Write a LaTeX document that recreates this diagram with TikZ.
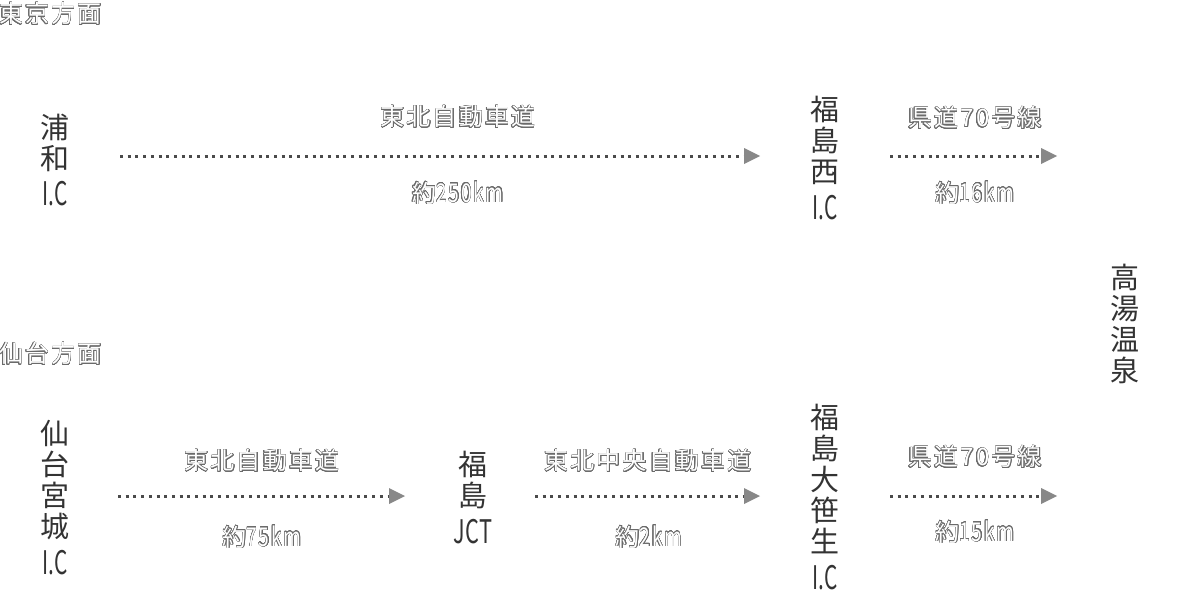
\documentclass[tikz,border=0pt]{standalone}
\usepackage{fontspec}
\usepackage{graphicx}
\usepackage{contour}
\usetikzlibrary{arrows.meta}
\newfontfamily\jp{Noto Sans CJK JP}
\newfontfamily\jpl[LetterSpace=9]{Noto Sans CJK JP}
\definecolor{txt}{HTML}{333333}
\definecolor{olc}{HTML}{6A6A6A}
\definecolor{dotc}{HTML}{4A4A4A}
\definecolor{headc}{HTML}{888888}
\contourlength{0.45pt}
\contournumber{24}
\newcommand{\ol}[1]{{\color{white}\contour{olc}{#1}}}
\newcommand{\dist}[1]{\ol{約}\scalebox{0.8}[1.08]{\ol{#1}}}
\newcommand{\ic}{\scalebox{0.72}[1.12]{I.C}}
\tikzset{
  place/.style={inner sep=0pt, align=center, text=txt, anchor=north,
    font=\jp\fontsize{29}{31}\selectfont},
  lbl/.style={inner sep=0pt, font=\jpl\fontsize{24}{24}\selectfont},
  road/.style={draw=dotc, line width=3pt, dash pattern=on 3pt off 4.7pt,
    -{Triangle[length=16pt,width=16pt,fill=headc,color=headc,line width=0pt]}},
}
\begin{document}
\begin{tikzpicture}[x=1pt,y=-1pt]
\useasboundingbox (0,0) rectangle (1180,613);
% direction labels
\node[lbl, anchor=west] (tokyo) at (-1,14) {\ol{東京方面}};
\node[lbl, anchor=west] (sendaidir) at (-1,354) {\ol{仙台方面}};
% places
\node[place] (urawa) at (55,114) {浦\\和\\[5pt]\ic};
\node[place] (fnishi) at (825,96) {福\\島\\西\\[6pt]\ic};
\node[place] (takayu) at (1125,264) {高\\湯\\温\\泉};
\node[place] (sendai) at (55,420) {仙\\台\\宮\\城\\[6pt]\ic};
\node[place] (fjct) at (473,451) {福\\島\\[6pt]\scalebox{0.75}[1.12]{JCT}};
\node[place] (fosaso) at (825,404) {福\\島\\大\\笹\\生\\[6pt]\ic};
% arrow ends
\coordinate (a1s) at (120,156); \coordinate (a1e) at (760,156);
\coordinate (a2s) at (890,156); \coordinate (a2e) at (1057,156);
\coordinate (a3s) at (118,496); \coordinate (a3e) at (405,496);
\coordinate (a4s) at (535,496); \coordinate (a4e) at (760,496);
\coordinate (a5s) at (890,496); \coordinate (a5e) at (1057,496);
\draw[road] (a1s) -- (a1e);
\draw[road] (a2s) -- (a2e);
\draw[road] (a3s) -- (a3e);
\draw[road] (a4s) -- (a4e);
\draw[road] (a5s) -- (a5e);
% road labels
\node[lbl] (r1) at (458,117) {\ol{東北自動車道}};
\node[lbl] (d1) at (458,193) {\dist{250km}};
\node[lbl] (r2) at (975,118) {\ol{県道70号線}};
\node[lbl] (d2) at (975,193) {\dist{16km}};
\node[lbl] (r3) at (262,461) {\ol{東北自動車道}};
\node[lbl] (d3) at (262,537) {\dist{75km}};
\node[lbl] (r4) at (648,461) {\ol{東北中央自動車道}};
\node[lbl] (d4) at (649,537) {\dist{2km}};
\node[lbl] (r5) at (975,457) {\ol{県道70号線}};
\node[lbl] (d5) at (975,532) {\dist{15km}};
\end{tikzpicture}
\end{document}
